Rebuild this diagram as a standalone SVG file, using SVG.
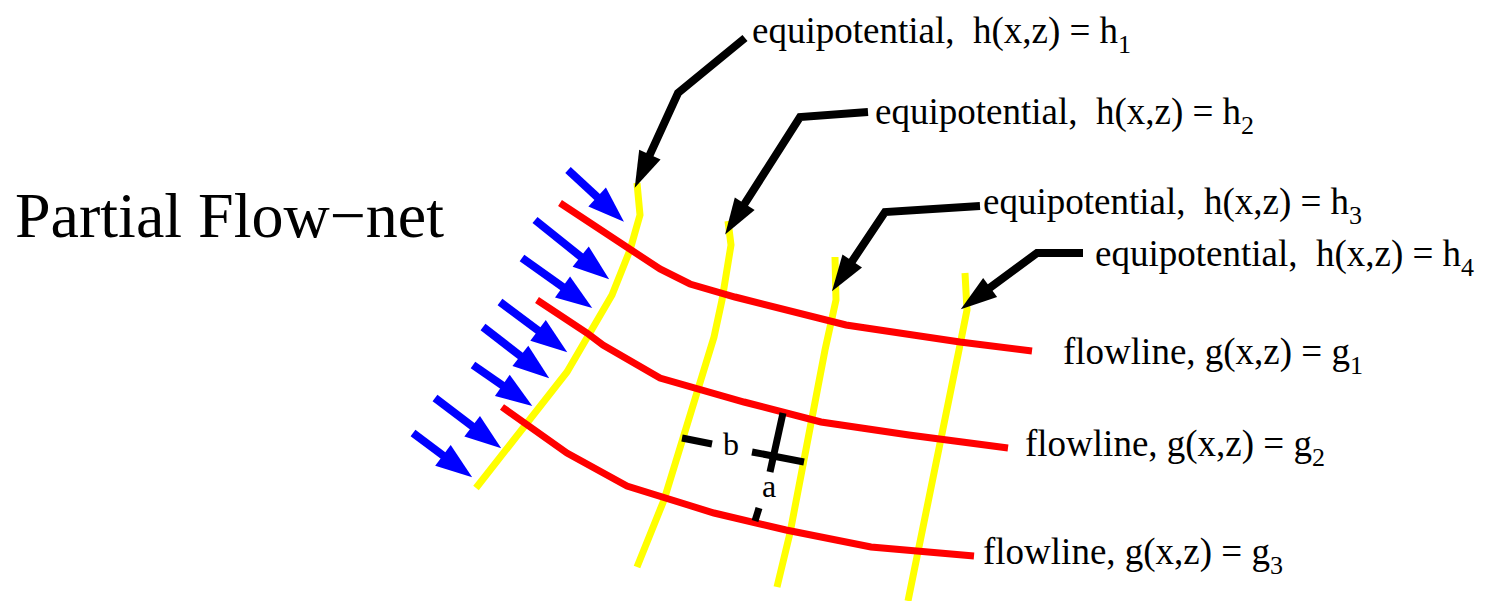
<svg xmlns="http://www.w3.org/2000/svg" width="1491" height="601" viewBox="0 0 1491 601">
<defs>
<style>
text{font-family:"Liberation Serif","Times New Roman",serif;fill:#000}
.lbl{font-size:37px}
.sub{font-size:26px}
.eq{fill:none;stroke:#ffff00;stroke-width:7;stroke-linejoin:miter}
.fl{fill:none;stroke:#ff0000;stroke-width:7;stroke-linejoin:miter}
.lead{fill:none;stroke:#000;stroke-width:8;stroke-linejoin:miter;marker-end:url(#hb)}
.inflow{fill:none;stroke:#0000ff;stroke-width:8;marker-end:url(#hu)}
.tick{fill:none;stroke:#000;stroke-width:7}
</style>
<marker id="hb" markerUnits="userSpaceOnUse" orient="auto" refX="0" refY="0" markerWidth="40" markerHeight="30" viewBox="-2 -12 34 24" overflow="visible">
<path d="M-1,-10 L30,0 L-1,10 Z" fill="#000"/>
</marker>
<marker id="hu" markerUnits="userSpaceOnUse" orient="auto" refX="0" refY="0" markerWidth="40" markerHeight="30" viewBox="-2 -12 34 24" overflow="visible">
<path d="M-1,-11 L30,0 L-1,11 Z" fill="#0000ff"/>
</marker>
</defs>
<rect width="1491" height="601" fill="#fff"/>
<g id="title"><text x="15" y="237" font-size="64">Partial Flow−net</text></g>
<g id="equipotentials">
<polyline id="eq1" class="eq" points="637,183 640,215 630,250 612,295 567,372 476,488"/>
<polyline id="eq2" class="eq" points="728,221 731,245 722,300 714,337 664,500 637,567"/>
<polyline id="eq3" class="eq" points="835,257 836,300 825,350 790,533 777,587"/>
<polyline id="eq4" class="eq" points="965,273 967,310 959,350 908,601"/>
</g>
<g id="flowlines">
<polyline id="fl1" class="fl" points="560,203 660,269 690,284 735,297 846,325 960,342 1032,351"/>
<polyline id="fl2" class="fl" points="537,300 587,333 603,345 660,378 744,402 821,422 909,435 1008,448"/>
<polyline id="fl3" class="fl" points="502,407 567,453 627,486 714,513 786,530 871,547 974,556"/>
</g>
<g id="inflow-arrows">
<line class="inflow" x1="568" y1="170" x2="598" y2="197.7"/>
<line class="inflow" x1="535" y1="220" x2="581.6" y2="257.3"/>
<line class="inflow" x1="522" y1="258" x2="563.5" y2="287.6"/>
<line class="inflow" x1="500" y1="302" x2="539" y2="331.1"/>
<line class="inflow" x1="483" y1="327" x2="521.3" y2="356.6"/>
<line class="inflow" x1="473" y1="365" x2="503.3" y2="386"/>
<line class="inflow" x1="435" y1="398" x2="473.1" y2="426.9"/>
<line class="inflow" x1="413" y1="433" x2="443.9" y2="456.1"/>
</g>
<g id="connectors">
<polyline class="lead" points="745,38 678,93 649.4,155.7"/>
<polyline class="lead" points="868,112 800,117 744.1,204.7"/>
<polyline class="lead" points="980,206 885,212 851.6,262"/>
<polyline class="lead" points="1083,253 1037,253 989.2,288.2"/>
</g>
<g id="spacing">
<line class="tick" x1="682" y1="438" x2="712" y2="444"/>
<line class="tick" x1="783" y1="413" x2="770" y2="472"/>
<line class="tick" x1="752" y1="452" x2="804" y2="462"/>
<line class="tick" x1="759" y1="508" x2="755" y2="521"/>
<text x="723" y="455" font-size="32">b</text>
<text x="762" y="497" font-size="32">a</text>
</g>
<g id="label-h1"><text class="lbl" x="752" y="43">equipotential,&#160; h(x,z) = h<tspan class="sub" dy="10">1</tspan></text></g>
<g id="label-h2"><text class="lbl" x="875" y="124">equipotential,&#160; h(x,z) = h<tspan class="sub" dy="10">2</tspan></text></g>
<g id="label-h3"><text class="lbl" x="983" y="214">equipotential,&#160; h(x,z) = h<tspan class="sub" dy="10">3</tspan></text></g>
<g id="label-h4"><text class="lbl" x="1095" y="266">equipotential,&#160; h(x,z) = h<tspan class="sub" dy="10">4</tspan></text></g>
<g id="label-g1"><text class="lbl" x="1063" y="364">flowline, g(x,z) = g<tspan class="sub" dy="10">1</tspan></text></g>
<g id="label-g2"><text class="lbl" x="1025" y="456">flowline, g(x,z) = g<tspan class="sub" dy="10">2</tspan></text></g>
<g id="label-g3"><text class="lbl" x="983" y="564">flowline, g(x,z) = g<tspan class="sub" dy="10">3</tspan></text></g>
</svg>
